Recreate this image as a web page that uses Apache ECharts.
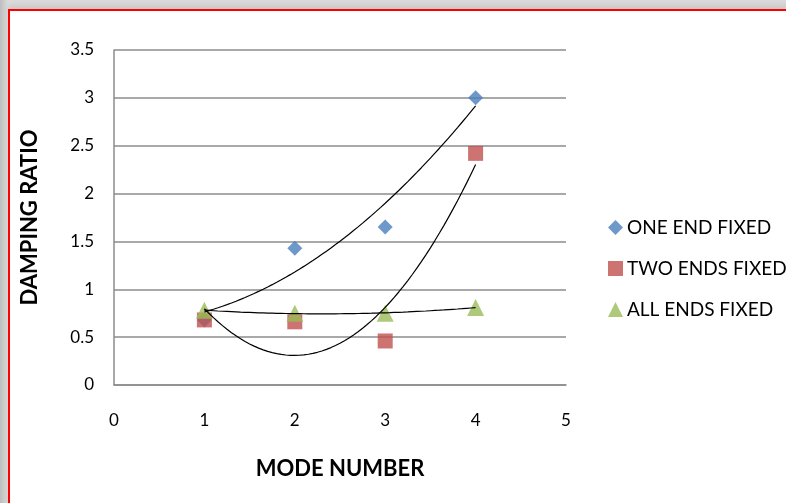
<!DOCTYPE html>
<html><head><meta charset="utf-8">
<script src="https://cdn.jsdelivr.net/npm/echarts@6/dist/echarts.min.js"></script>
<style>
html,body{margin:0;padding:0;width:786px;height:503px;overflow:hidden;}
#bg{position:absolute;left:0;top:0;width:786px;height:503px;background:linear-gradient(to right,#bdbdbd 0px,#dcdcdc 8px,#dcdcdc 100%);}
#frame{position:absolute;left:8px;top:9px;width:800px;height:520px;background:#fff;border:2px solid #ff0000;box-sizing:border-box;box-shadow:0 -4px 6px #c8c8c8;}
#chart{position:absolute;left:0;top:0;width:786px;height:503px;}
</style></head>
<body>
<div id="bg"></div><div id="frame"></div><div id="chart"></div>
<script>
const modes = [1, 2, 3, 4];
const oneEndFixed = [0.68, 1.43, 1.65, 3.00];
const twoEndsFixed = [0.68, 0.66, 0.46, 2.42];
const allEndsFixed = [0.78, 0.75, 0.75, 0.81];
const xTicks = [0, 1, 2, 3, 4, 5];
const yTicks = [0, 0.5, 1, 1.5, 2, 2.5, 3, 3.5];

function quadFit(xs, ys) {
  let S = [[0,0,0],[0,0,0],[0,0,0]], T = [0,0,0];
  for (let i = 0; i < xs.length; i++) {
    const p = [1, xs[i], xs[i]*xs[i]];
    for (let r = 0; r < 3; r++) { T[r] += p[r]*ys[i]; for (let c = 0; c < 3; c++) S[r][c] += p[r]*p[c]; }
  }
  const M = S.map((row, i) => row.concat([T[i]]));
  for (let i = 0; i < 3; i++) {
    for (let j = i+1; j < 3; j++) {
      const f = M[j][i]/M[i][i];
      for (let k = i; k < 4; k++) M[j][k] -= f*M[i][k];
    }
  }
  const coef = [0,0,0];
  for (let i = 2; i >= 0; i--) {
    let s = M[i][3];
    for (let k = i+1; k < 3; k++) s -= M[i][k]*coef[k];
    coef[i] = s/M[i][i];
  }
  return coef;
}
function trend(ys) {
  const c = quadFit(modes, ys);
  const pts = [];
  const x0 = modes[0], x1 = modes[modes.length-1];
  for (let i = 0; i <= 60; i++) {
    const x = x0 + (x1-x0)*i/60;
    pts.push([x, c[0] + c[1]*x + c[2]*x*x]);
  }
  return pts;
}
const pairs = ys => modes.map((m, i) => [m, ys[i]]);

const font = 'Lato, "Open Sans", sans-serif';
const chart = echarts.init(document.getElementById('chart'), null, {renderer: 'canvas'});
const trendStyle = {type: 'line', showSymbol: false, symbol: 'none', smooth: false, lineStyle: {color: '#000', width: 1.2}, z: 5, silent: true, legendHoverLink: false};
chart.setOption({
  animation: false,
  backgroundColor: 'transparent',
  grid: {left: 114, right: 220, top: 50, bottom: 118},
  legend: {
    orient: 'vertical', left: 603, top: 213, itemGap: 22, itemWidth: 15, itemHeight: 15,
    data: [
      {name: 'ONE END FIXED', icon: 'diamond'},
      {name: 'TWO ENDS FIXED', icon: 'rect'},
      {name: 'ALL ENDS FIXED', icon: 'triangle'}
    ],
    textStyle: {fontFamily: font, fontSize: 19, color: '#000', padding: [0, 0, 0, -1]}
  },
  xAxis: {
    type: 'value', min: 0, max: 5, interval: 1,
    name: 'MODE NUMBER', nameLocation: 'middle', nameGap: 73,
    nameTextStyle: {fontFamily: font, fontSize: 22, fontWeight: 'bold', color: '#000'},
    axisLine: {show: true, lineStyle: {color: '#8c8c8c', width: 1.5}},
    axisTick: {show: false},
    splitLine: {show: false},
    axisLabel: {fontFamily: font, fontSize: 17, color: '#000', margin: 27, formatter: v => xTicks.includes(v) ? String(v) : ''}
  },
  yAxis: {
    type: 'value', min: 0, max: 3.5, interval: 0.5,
    name: 'DAMPING RATIO', nameLocation: 'middle', nameGap: 73, nameRotate: 90,
    nameTextStyle: {fontFamily: font, fontSize: 22, fontWeight: 'bold', color: '#000'},
    axisLine: {show: true, lineStyle: {color: '#8c8c8c', width: 1.5}},
    axisTick: {show: false},
    splitLine: {show: true, lineStyle: {color: '#8c8c8c', width: 1.5}},
    axisLabel: {fontFamily: font, fontSize: 17, color: '#000', margin: 20, formatter: v => yTicks.includes(v) ? String(v) : ''}
  },
  series: [
    {name: 'ONE END FIXED', type: 'scatter', symbol: 'diamond', symbolSize: 15, itemStyle: {color: '#4a7ebb'}, data: pairs(oneEndFixed), z: 2},
    {name: 'TWO ENDS FIXED', type: 'scatter', symbol: 'rect', symbolSize: 15, itemStyle: {color: '#c0504d'}, data: pairs(twoEndsFixed), z: 3},
    {name: 'ALL ENDS FIXED', type: 'scatter', symbol: 'triangle', symbolSize: 17, itemStyle: {color: '#9bbb59'}, data: pairs(allEndsFixed), z: 4},
    Object.assign({name: 'trend1', data: trend(oneEndFixed)}, trendStyle),
    Object.assign({name: 'trend2', data: trend(twoEndsFixed)}, trendStyle),
    Object.assign({name: 'trend3', data: trend(allEndsFixed)}, trendStyle)
  ]
});
</script>
</body></html>
